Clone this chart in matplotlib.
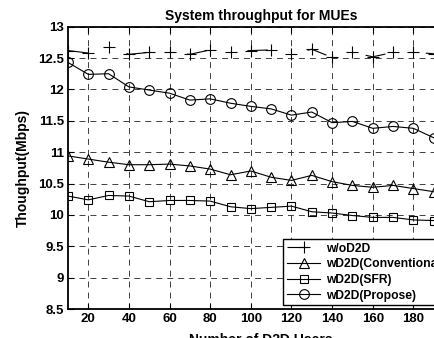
import matplotlib
matplotlib.use("Agg")
import matplotlib.pyplot as plt

plt.rcParams['font.family'] = ['Liberation Sans', 'DejaVu Sans']
plt.rcParams['font.weight'] = 'bold'
plt.rcParams['lines.scale_dashes'] = False

x_users = [10, 20, 30, 40, 50, 60, 70, 80, 90, 100, 110, 120, 130, 140, 150, 160, 170, 180, 190]
wo_d2d = [12.62, 12.58, 12.68, 12.56, 12.59, 12.59, 12.56, 12.63, 12.60, 12.62,
          12.63, 12.57, 12.64, 12.51, 12.59, 12.52, 12.59, 12.59, 12.57]
conv = [10.94, 10.89, 10.84, 10.80, 10.80, 10.81, 10.78, 10.73, 10.64, 10.70,
        10.60, 10.55, 10.63, 10.53, 10.47, 10.44, 10.47, 10.42, 10.37]
sfr = [10.30, 10.24, 10.31, 10.30, 10.21, 10.23, 10.23, 10.22, 10.13, 10.10,
       10.12, 10.14, 10.05, 10.03, 9.99, 9.96, 9.96, 9.92, 9.91]
propose = [12.43, 12.24, 12.25, 12.04, 11.99, 11.94, 11.83, 11.85, 11.78, 11.73,
           11.69, 11.59, 11.64, 11.47, 11.49, 11.38, 11.41, 11.38, 11.23]

series_labels = ['w/oD2D', 'wD2D(Conventional)', 'wD2D(SFR)', 'wD2D(Propose)']
x_ticks = [20, 40, 60, 80, 100, 120, 140, 160, 180, 200]
y_ticks = [8.5, 9, 9.5, 10, 10.5, 11, 11.5, 12, 12.5, 13]
y_tick_labels = ['8.5', '9', '9.5', '10', '10.5', '11', '11.5', '12', '12.5', '13']

W, H = 435, 338
fig = plt.figure(figsize=(W / 100, H / 100), dpi=100)
ax = fig.add_axes([68 / W, (H - 309) / H, 386 / W, (309 - 26.7) / H])

ms = 7
mew = 0.8
ax.plot(x_users, wo_d2d, color='black', lw=0.8, marker='+', ms=8.5, mew=mew,
        linestyle=(0, (14.6, 29.2)), label=series_labels[0])
ax.plot(x_users, conv, color='black', lw=0.8, marker='^', ms=ms, mew=mew,
        mfc='none', label=series_labels[1])
ax.plot(x_users, sfr, color='black', lw=0.8, marker='s', ms=6, mew=mew,
        mfc='none', label=series_labels[2])
ax.plot(x_users, propose, color='black', lw=0.8, marker='o', ms=ms, mew=mew,
        mfc='none', label=series_labels[3])

ax.set_xlim(10, 200)
ax.set_ylim(8.5, 13)
ax.set_xticks(x_ticks)
ax.set_yticks(y_ticks)
ax.set_yticklabels(y_tick_labels)
ax.tick_params(direction='in', length=4, width=0.8, top=True, right=True,
               labelsize=9.5, pad=3)
for lab in ax.get_xticklabels() + ax.get_yticklabels():
    lab.set_fontweight('bold')
for s in ax.spines.values():
    s.set_linewidth(1.3)

ax.grid(True, color='#404040', linestyle=(0, (4.3, 3.6)), linewidth=0.7)

ax.set_title('System throughput for MUEs', fontsize=10, fontweight='bold', pad=5)
ax.set_xlabel('Number of D2D Users', fontsize=10, fontweight='bold', labelpad=6)
ax.set_ylabel('Thoughput(Mbps)', fontsize=10, fontweight='bold', labelpad=6)

leg = ax.legend(loc='upper left', bbox_to_anchor=(283 / W, 1 - 239 / H),
                bbox_transform=fig.transFigure, frameon=True, fancybox=False,
                edgecolor='black', framealpha=1, fontsize=8.7, handlelength=2.8,
                borderpad=0.3, labelspacing=0.3, handletextpad=0.5,
                borderaxespad=0)
leg.get_frame().set_linewidth(1.0)
for t in leg.get_texts():
    t.set_fontweight('bold')

fig.savefig('out.png', dpi=100)
